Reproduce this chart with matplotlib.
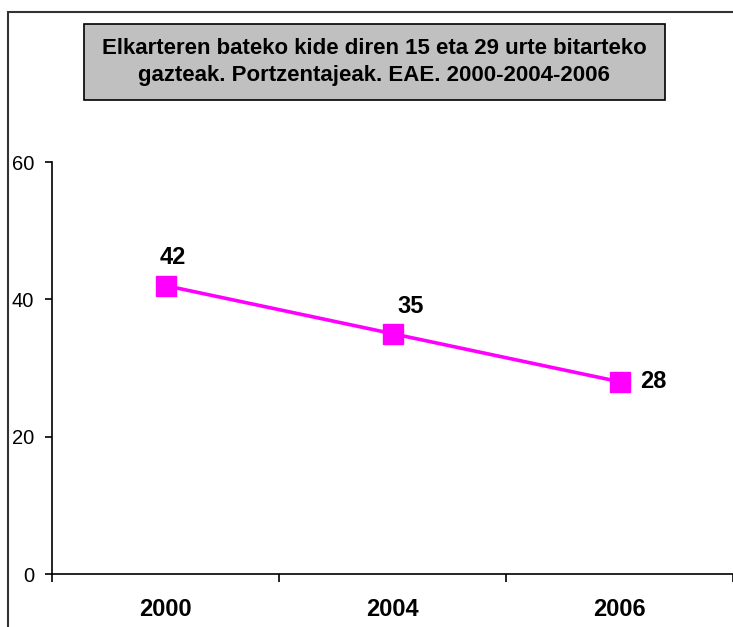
import matplotlib.pyplot as plt
from matplotlib.patches import Rectangle

# data
years = ["2000", "2004", "2006"]
values = [42, 35, 28]
y_ticks = [0, 20, 40, 60]
title = "Elkarteren bateko kide diren 15 eta 29 urte bitarteko\ngazteak. Portzentajeak. EAE. 2000-2004-2006"

# label offsets in pixels (style only)
label_offsets = [(7, 28), (18, 27), (34, 0)]

plt.rcParams['font.family'] = ['Liberation Sans', 'DejaVu Sans']

fig = plt.figure(figsize=(7.33, 6.27), dpi=100)
ax = fig.add_axes([52 / 733, 1 - 574 / 627, 1 - 52 / 733, (574 - 162) / 627])

x = list(range(len(years)))
ax.plot(x, values, color="#FF00FF", lw=2.6, marker="s", markersize=14,
        markerfacecolor="#FF00FF", markeredgecolor="#FF00FF", zorder=3)

for xi, v, (dx, dy) in zip(x, values, label_offsets):
    ax.annotate(str(v), (xi, v), xytext=(dx * 0.72, dy * 0.72), textcoords="offset points",
                ha="center", va="center", fontsize=17, fontweight="bold")

ax.set_xlim(-0.5, 2.5)
ax.set_ylim(0, 60)
ax.set_yticks(y_ticks)
ax.set_yticklabels([str(t) for t in y_ticks], fontsize=14.5)
ax.set_xticks(x)
ax.set_xticklabels(years, fontsize=17, fontweight="bold")
ax.set_xticks([-0.5, 0.5, 1.5, 2.5], minor=True)
ax.tick_params(axis="x", which="major", length=0, pad=17)
ax.tick_params(axis="x", which="minor", length=6, width=1.2, direction="out")
ax.tick_params(axis="y", length=5, width=1.2, pad=8)
for s in ["top", "right"]:
    ax.spines[s].set_visible(False)
for s in ["left", "bottom"]:
    ax.spines[s].set_linewidth(1.2)

# outer frame, cut at right and bottom like the reference
fig.patches.append(Rectangle((8 / 733, -0.1), 1.2, 1 - 12 / 627 + 0.1, transform=fig.transFigure,
                             fill=False, edgecolor="#333333", lw=1.5))

# title box
fig.patches.append(Rectangle((84 / 733, 1 - 100 / 627), (665 - 84) / 733, 76 / 627,
                             transform=fig.transFigure, facecolor="#C0C0C0",
                             edgecolor="black", lw=1.2))
fig.text(374 / 733, 1 - 62 / 627, title, ha="center", va="center", fontsize=16,
         fontweight="bold", linespacing=1.35)

fig.savefig("out.png", dpi=100)
